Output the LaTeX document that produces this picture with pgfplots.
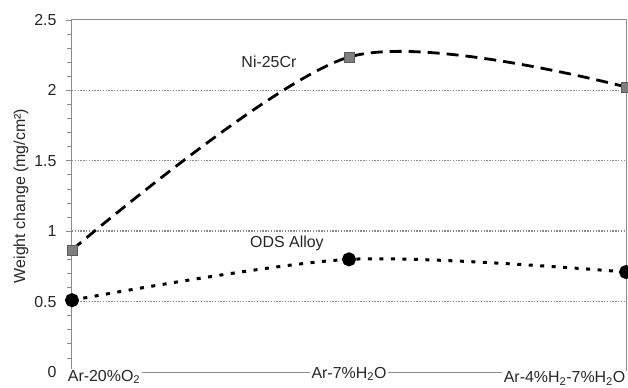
\documentclass[border=0pt]{standalone}
\usepackage{fontspec}
\setmainfont{Liberation Sans}
\usepackage{pgfplots}
\pgfplotsset{compat=1.18}
\definecolor{axgray}{HTML}{8C8C8C}
\definecolor{gridgray}{HTML}{8A8A8A}
\definecolor{txt}{HTML}{262626}
\definecolor{sqfill}{HTML}{7F7F7F}
\definecolor{sqdraw}{HTML}{5A5A5A}
\begin{document}
\begin{tikzpicture}[font=\fontsize{16}{19}\selectfont]
\begin{axis}[
 scale only axis, width=554bp, height=352bp,
 xmin=0, xmax=2, ymin=0, ymax=2.5,
 clip=false,
 axis line style={axgray, line width=1bp},
 xtick=\empty,
 ytick={0,0.5,1,1.5,2,2.5},
 minor y tick num=4,
 tick align=outside,
 major tick length=6bp, minor tick length=5bp,
 every tick/.style={axgray, line width=0.8bp},
 ytick pos=left,
 extra y ticks={0.5,1,1.5,2},
 extra y tick labels={},
 extra y tick style={grid=major, major tick length=0pt},
 grid style={gridgray, line width=1.4bp, dash pattern=on 1.4bp off 1.4bp},
 tick label style={txt, font=\fontsize{16}{19}\selectfont},
 /pgf/number format/assume math mode=true,
 yticklabel style={xshift=-6bp},
 ylabel={Weight change (mg/cm²)},
 ylabel style={at={(axis description cs:-0.0921,0.5)}, anchor=center, txt, font=\fontsize{16}{19}\selectfont},
]
\coordinate (ll) at (rel axis cs:0,0);
\coordinate (ur) at (rel axis cs:1,1);
\addplot[black, line width=2.8bp, dash pattern=on 12bp off 7bp, smooth,
  mark=square*, mark size=5bp,
  mark options={solid, fill=sqfill, draw=sqdraw, line width=0.8bp}]
  coordinates {(0,0.867) (1,2.237) (2,2.024)};
\addplot[black, line width=3bp, line cap=butt, dash pattern=on 4bp off 7.5bp, smooth,
  mark=*, mark size=5.5bp,
  mark options={solid, fill=black}]
  coordinates {(0,0.51) (1,0.80) (2,0.71)};
\node[txt] at (axis cs:0.711,2.20) {Ni-25Cr};
\node[txt] at (axis cs:0.776,0.916) {ODS Alloy};
\node[txt, fill=white, inner xsep=1.5bp, inner ysep=1bp, xshift=32bp, yshift=-5bp] at (axis cs:0,0) {Ar-20\%O\textsubscript{2}};
\node[txt, fill=white, inner xsep=1.5bp, inner ysep=1bp, yshift=-2bp] at (axis cs:1,0) {Ar-7\%H\textsubscript{2}O};
\node[txt, fill=white, inner xsep=1.5bp, inner ysep=1bp, anchor=east, xshift=1bp, yshift=-6.5bp] at (axis cs:2,0) {Ar-4\%H\textsubscript{2}-7\%H\textsubscript{2}O};
\end{axis}
\pgfresetboundingbox
\path[use as bounding box] ([xshift=-72bp,yshift=-16bp]ll) rectangle ([xshift=2bp,yshift=20bp]ur);
\end{tikzpicture}
\end{document}
